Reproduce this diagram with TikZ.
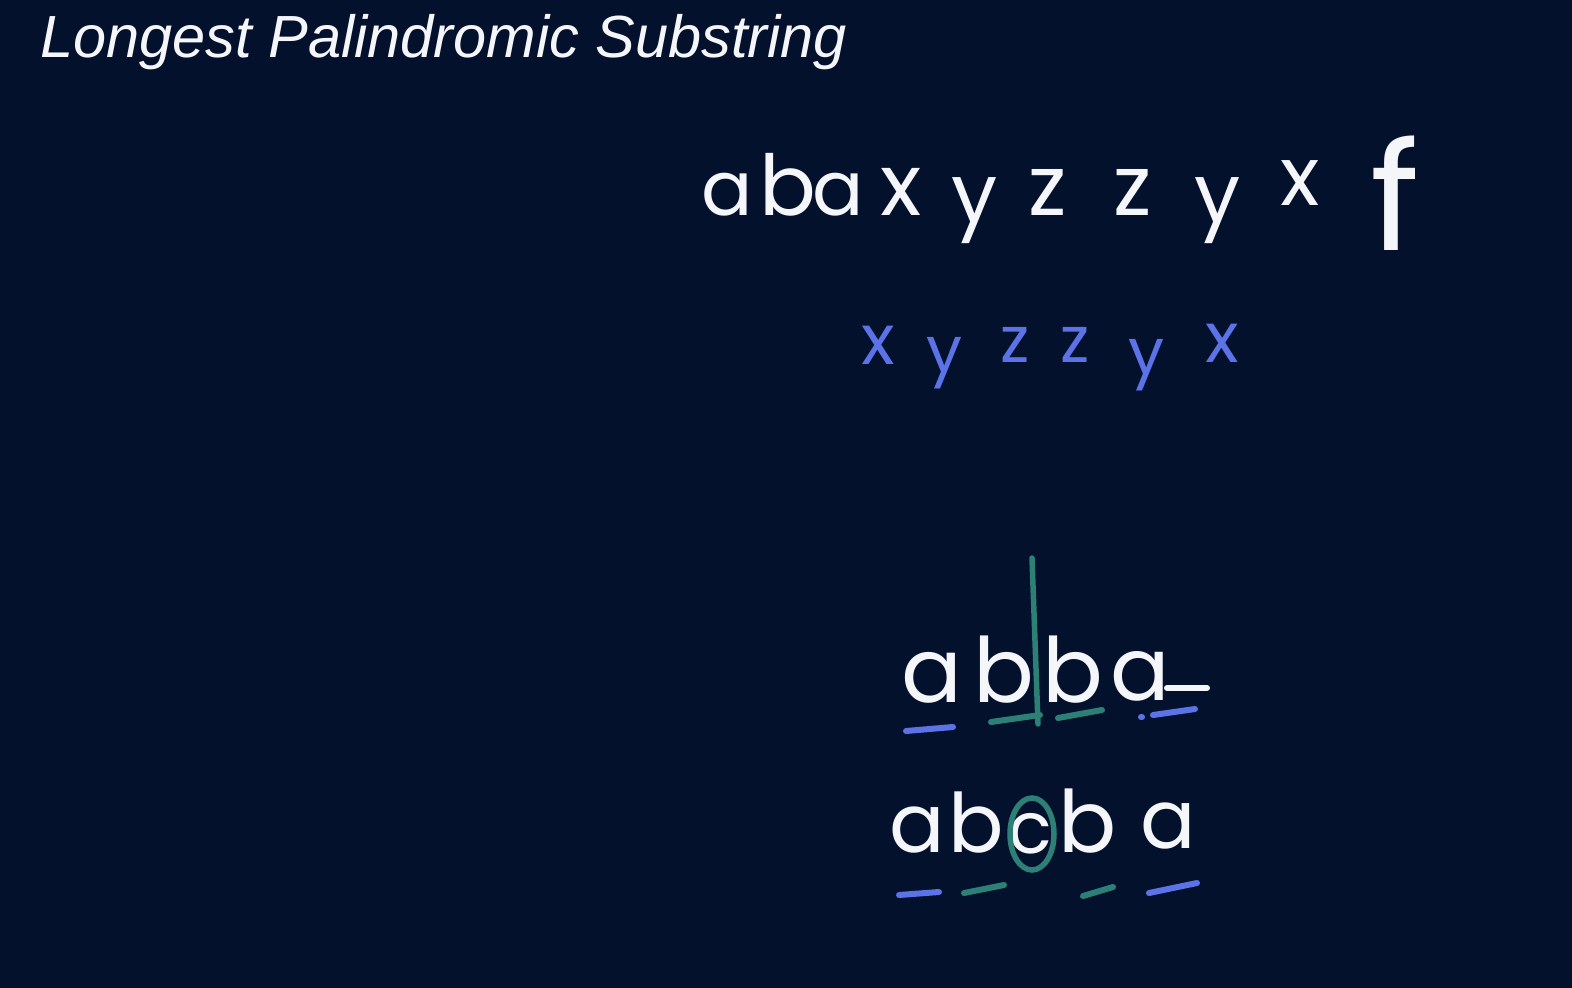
\documentclass[tikz,border=0pt]{standalone}
\usepackage{fontspec}
\setmainfont{Poppins}
\newfontfamily\titlefont{Liberation Sans}
\definecolor{bg}{RGB}{3,17,45}
\definecolor{inkwhite}{RGB}{245,246,250}
\definecolor{inkblue}{RGB}{92,115,232}
\definecolor{inkteal}{RGB}{44,128,118}
\newcommand{\hwsize}[1]{\fontsize{#1}{#1}\selectfont}
\tikzset{
  hw/.style={inner sep=0pt, anchor=base, text=inkwhite},
  hwblue/.style={inner sep=0pt, anchor=base, text=inkblue},
  penstroke/.style={line width=6pt, line cap=round, line join=round},
  blueline/.style={penstroke, draw=inkblue},
  tealline/.style={penstroke, draw=inkteal},
}
\begin{document}
\begin{tikzpicture}[x=1pt,y=-1pt]
\fill[bg] (0,0) rectangle (1572,988);
\useasboundingbox (0,0) rectangle (1572,988);
\node[anchor=base west, inner sep=0pt, text=inkwhite, font=\titlefont\itshape\hwsize{59.5}] (title) at (40,57) {Longest Palindromic Substring};
% top row
\node[hw, font=\hwsize{76}] (t1) at (727,215) {a};
\node[hw, font=\hwsize{84}] (t2) at (788,215) {b};
\node[hw, font=\hwsize{76}] (t3) at (838,215) {a};
\node[hw, font=\hwsize{86}] (t4) at (901,215) {x};
\node[hw, font=\hwsize{82}] (t5) at (975,222) {y};
\node[hw, font=\hwsize{84}] (t6) at (1048,215) {z};
\node[hw, font=\hwsize{84}] (t7) at (1133,215) {z};
\node[hw, font=\hwsize{82}] (t8) at (1218,222) {y};
\node[hw, font=\hwsize{82}] (t9) at (1300,205) {x};
\node[hw, font=\hwsize{150}] (t10) at (1395,250) {f};
% blue row
\node[hwblue, font=\hwsize{70}] (u1) at (878,364) {x};
\node[hwblue, font=\hwsize{64}] (u2) at (945,372) {y};
\node[hwblue, font=\hwsize{64}] (u3) at (1015,362) {z};
\node[hwblue, font=\hwsize{64}] (u4) at (1075,362) {z};
\node[hwblue, font=\hwsize{64}] (u5) at (1147,374) {y};
\node[hwblue, font=\hwsize{70}] (u6) at (1222,362) {x};
% abba
\node[hw, font=\hwsize{90}] (p1) at (932,702) {a};
\node[hw, font=\hwsize{90}] (p2) at (1004,702) {b};
\node[hw, font=\hwsize{90}] (p3) at (1073,702) {b};
\node[hw, font=\hwsize{88}] (p4) at (1140,700) {a};
\coordinate (tailend) at (1207,688);
\draw[penstroke, draw=inkwhite] (p4.base east) ++(-3,-12) coordinate (tailstart) -- (tailend);
\coordinate (mtop) at (1032,558);
\coordinate (mbot) at (1038,724);
\draw[line width=5.5pt, line cap=round, draw=inkteal] (mtop) -- (mbot);
\coordinate (l1a) at (906,731); \coordinate (l1b) at (953,727);
\coordinate (l2a) at (991,722); \coordinate (l2b) at (1040,715);
\coordinate (l3a) at (1058,718); \coordinate (l3b) at (1102,710);
\coordinate (l4o) at (1141,717);
\coordinate (l4a) at (1153,715); \coordinate (l4b) at (1195,709);
\draw[blueline] (l1a) -- (l1b);
\draw[tealline] (l2a) -- (l2b);
\draw[tealline] (l3a) -- (l3b);
\draw[blueline] (l4o) -- ++(1,0);
\draw[blueline] (l4a) -- (l4b);
% abcba
\node[hw, font=\hwsize{82}] (q1) at (917,852) {a};
\node[hw, font=\hwsize{82}] (q2) at (976,852) {b};
\node[hw, font=\hwsize{72}] (q3) at (1030,853) {c};
\node[hw, font=\hwsize{86}] (q4) at (1088,852) {b};
\node[hw, font=\hwsize{82}] (q5) at (1168,848) {a};
\draw[line width=5.5pt, draw=inkteal] (1032,834) ellipse [x radius=22, y radius=36];
\coordinate (m1a) at (899,895); \coordinate (m1b) at (939,892);
\coordinate (m2a) at (964,893); \coordinate (m2b) at (1004,885);
\coordinate (m3a) at (1083,896); \coordinate (m3b) at (1113,887);
\coordinate (m4a) at (1149,893); \coordinate (m4b) at (1197,883);
\draw[blueline] (m1a) -- (m1b);
\draw[tealline] (m2a) -- (m2b);
\draw[tealline] (m3a) -- (m3b);
\draw[blueline] (m4a) -- (m4b);
\end{tikzpicture}
\end{document}
